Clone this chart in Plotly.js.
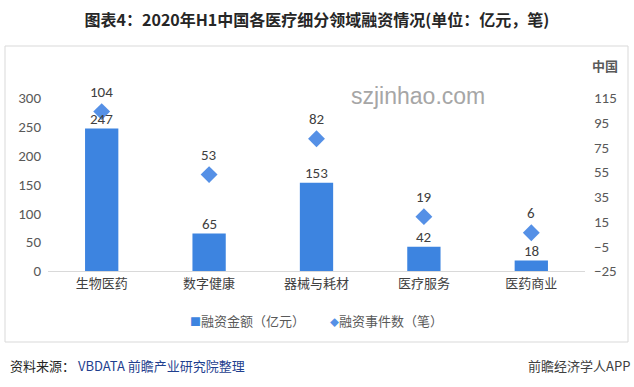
<!DOCTYPE html>
<html>
<head>
<meta charset="utf-8">
<script src="https://cdn.plot.ly/plotly-3.0.1.min.js"></script>
<style>html,body{margin:0;padding:0;background:#fff}#chart{width:634px;height:387px}</style>
</head>
<body>
<div id="chart"></div>
<script>
const categories = ['生物医药', '数字健康', '器械与耗材', '医疗服务', '医药商业'];
const amounts = [247, 65, 153, 42, 18];
const counts = [104, 53, 82, 19, 6];
const leftTicks = [0, 50, 100, 150, 200, 250, 300];
const rightTicks = [-25, -5, 15, 35, 55, 75, 95, 115];
const seriesNames = ['融资金额（亿元）', '融资事件数（笔）'];

const CJK = '"Noto Sans CJK SC", "Noto Sans", sans-serif';
const NUM = 'Carlito, Calibri, "Liberation Sans", "Noto Sans CJK SC", sans-serif';
const BAR_COLOR = '#3d84e0';
const DOT_COLOR = '#5590e6';

const traces = [
  {
    type: 'bar', name: seriesNames[0], x: categories, y: amounts,
    marker: {color: BAR_COLOR}, width: 0.31, yaxis: 'y'
  },
  {
    type: 'scatter', mode: 'markers', name: seriesNames[1], x: categories, y: counts,
    marker: {symbol: 'diamond', size: 13, color: DOT_COLOR}, yaxis: 'y2'
  }
];

const px = v => (v - 48) / 537;
const py = v => (271 - v) / 173;

const annotations = [];
categories.forEach((c, i) => {
  annotations.push({x: c, y: amounts[i], xref: 'x', yref: 'y', text: String(amounts[i]),
    showarrow: false, yanchor: 'bottom', yshift: -1, font: {family: NUM, size: 15, color: '#404040'}});
  annotations.push({x: c, y: counts[i], xref: 'x', yref: 'y2', text: String(counts[i]),
    showarrow: false, yanchor: 'middle', yshift: 20, font: {family: NUM, size: 15, color: '#404040'}});
});
annotations.push({xref: 'paper', yref: 'paper', x: px(605), y: py(65), text: '<b>中国</b>', showarrow: false,
  xanchor: 'center', yanchor: 'middle', font: {family: CJK, size: 13, color: '#595959'}});
annotations.push({xref: 'paper', yref: 'paper', x: px(418), y: py(96), text: 'szjinhao.com', showarrow: false,
  xanchor: 'center', yanchor: 'middle', font: {family: '"Liberation Sans", Arial, sans-serif', size: 23, color: '#a6a6a6'}});
// legend drawn as text entries
annotations.push({xref: 'paper', yref: 'paper', x: px(188), y: py(320),
  text: '<span style="color:' + BAR_COLOR + ';font-size:11px">■</span>' + seriesNames[0], showarrow: false,
  xanchor: 'left', yanchor: 'middle', font: {family: CJK, size: 13, color: '#595959'}});
annotations.push({xref: 'paper', yref: 'paper', x: px(328), y: py(320),
  text: '<span style="color:' + DOT_COLOR + ';font-size:9px">◆</span>' + seriesNames[1], showarrow: false,
  xanchor: 'left', yanchor: 'middle', font: {family: CJK, size: 13, color: '#595959'}});
annotations.push({xref: 'paper', yref: 'paper', x: px(8), y: py(365),
  text: '资料来源： <span style="color:#1f3f8f">VBDATA 前瞻产业研究院整理</span>', showarrow: false,
  xanchor: 'left', yanchor: 'middle', font: {family: CJK, size: 13, color: '#262626'}});
annotations.push({xref: 'paper', yref: 'paper', x: px(632), y: py(365),
  text: '前瞻经济学人APP', showarrow: false,
  xanchor: 'right', yanchor: 'middle', font: {family: CJK, size: 13, color: '#404040'}});

const layout = {
  width: 634, height: 387,
  margin: {l: 48, r: 49, t: 98, b: 116},
  paper_bgcolor: '#ffffff', plot_bgcolor: '#ffffff',
  title: {text: '<b>图表4：2020年H1中国各医疗细分领域融资情况(单位：亿元，笔)</b>',
    x: 0.5, xanchor: 'center', y: 1 - 20 / 387, yanchor: 'middle', yref: 'container',
    font: {family: CJK, size: 16, color: '#262626'}},
  showlegend: false,
  xaxis: {type: 'category', showgrid: false, zeroline: false, showline: true, linecolor: '#d9d9d9', linewidth: 1,
    ticks: '', tickfont: {family: CJK, size: 13, color: '#404040'}, fixedrange: true},
  yaxis: {range: [0, 300], tickvals: leftTicks, showgrid: false, zeroline: false, showline: false,
    ticks: '', ticklabelstandoff: 6, tickfont: {family: NUM, size: 15, color: '#595959'}},
  yaxis2: {range: [-25, 115], tickvals: rightTicks, overlaying: 'y', side: 'right', showgrid: false,
    zeroline: false, showline: false, ticks: '', ticklabelstandoff: 8, tickfont: {family: NUM, size: 15, color: '#595959'}},
  annotations: annotations,
  shapes: [{type: 'rect', xref: 'paper', yref: 'paper',
    x0: px(5), x1: px(628), y0: py(342), y1: py(46),
    line: {color: '#d9d9d9', width: 1}, fillcolor: 'rgba(0,0,0,0)', layer: 'below'}],
  bargap: 0.69
};

Plotly.newPlot('chart', traces, layout, {displayModeBar: false, staticPlot: true});
</script>
</body>
</html>
